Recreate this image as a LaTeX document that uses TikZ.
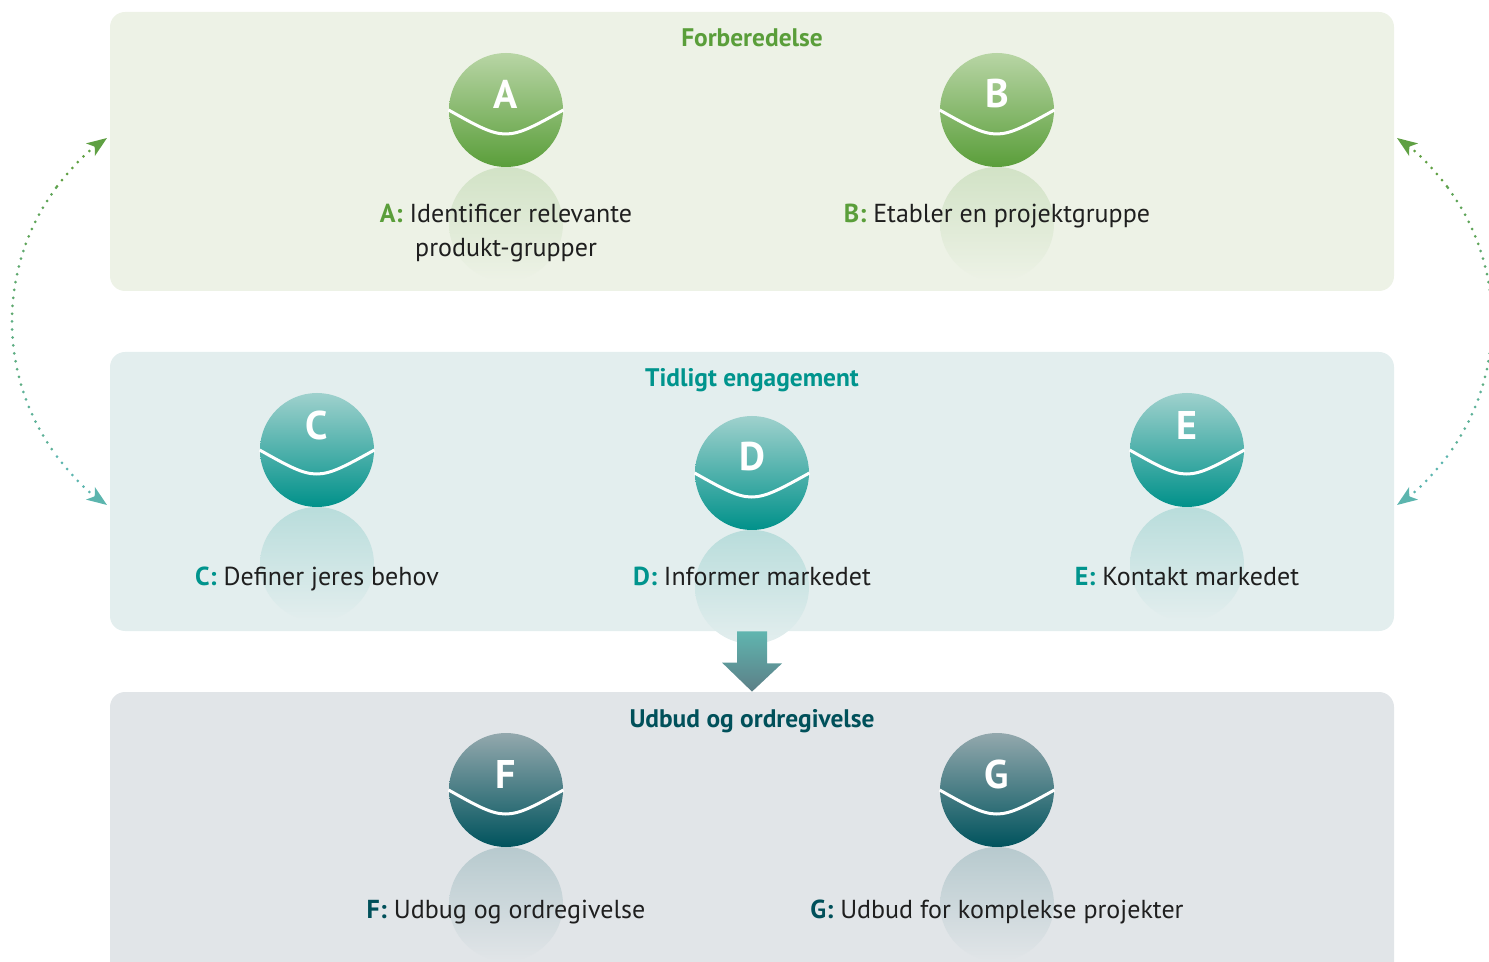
\documentclass[tikz,border=0pt]{standalone}
\usepackage{fontspec}
\setmainfont{PT Sans}
\usetikzlibrary{arrows.meta}

\definecolor{grn}{HTML}{5A9E3A}
\definecolor{tea}{HTML}{00948D}
\definecolor{drk}{HTML}{00505A}
\definecolor{prepbg}{HTML}{EDF2E6}
\definecolor{earlybg}{HTML}{E3EEEE}
\definecolor{tenderbg}{HTML}{E1E5E8}
\definecolor{dotgrn}{HTML}{5FA043}
\definecolor{dottea}{HTML}{5CB5AE}
\definecolor{arrtop}{HTML}{60B5AF}
\definecolor{arrbot}{HTML}{5C7F87}

\tikzset{
  panel/.style={rectangle, rounded corners=7.5pt, minimum width=642pt, minimum height=139.5pt, inner sep=0pt},
  ball/.style n args={3}{circle, minimum size=57pt, inner sep=0pt, top color=#1, middle color=#2, bottom color=#3},
  letter/.style={text=white, font=\bfseries\fontsize{20}{20}\selectfont},
  title/.style={anchor=base, font=\bfseries\fontsize{12.7}{15}\selectfont},
  steptext/.style={anchor=base, font=\fontsize{13}{17}\selectfont, align=center, text=black!88},
  dotline/.style={line width=1.5pt, line cap=round, dash pattern=on 0pt off 4pt},
  tip/.style={{Stealth[length=10pt,width=7.5pt,inset=2.5pt]}-},
}

\begin{document}
\begin{tikzpicture}[x=0.5pt,y=-0.5pt]
\useasboundingbox (0,0) rectangle (1489,962);
\clip (0,0) rectangle (1489,962);

% panels
\node[panel, fill=prepbg] (prep) at (752,151.5) {};
\node[panel, fill=earlybg] (early) at (752,491.5) {};
\node[panel, fill=tenderbg, minimum height=150pt] (tender) at (752,842) {};

\node[title, text=grn] (t1) at (752,47) {Forberedelse};
\node[title, text=tea] (t2) at (752,387) {Tidligt engagement};
\node[title, text=drk] (t3) at (752,727) {Udbud og ordregivelse};

% spheres
\foreach \n/\x/\y/\l/\up/\ca/\cb/\cc/\bg in {
    a/506/110/A/8/B8D5A5/80B763/5A9E3A/prepbg,
    b/997/110/B/8/B8D5A5/80B763/5A9E3A/prepbg,
    c/317/450/C/12/9FD1CD/2FA59E/00918A/earlybg,
    d/752/473/D/8/9FD1CD/2FA59E/00918A/earlybg,
    e/1187/450/E/12/9FD1CD/2FA59E/00918A/earlybg,
    f/506/790/F/8/93A8AD/3E737B/00535D/tenderbg,
    g/997/790/G/8/93A8AD/3E737B/00535D/tenderbg} {
  \definecolor{ca}{HTML}{\ca}
  \definecolor{cb}{HTML}{\cb}
  \definecolor{cc}{HTML}{\cc}
  \shade[top color=cc!28!\bg, middle color=cc!5!\bg, bottom color=\bg] (\x,\y) ++(0,114) circle[radius=57];
  \node[ball={ca}{cb}{cc}] (\n) at (\x,\y) {};
  \draw[white, line width=1.5pt] (\n.west) .. controls +(57,32) .. (\n.east);
  \node[letter] (\n l) at ([yshift=\up pt]\n.center) {\l};
}

% labels
\node[steptext] (la) at (506,257) {\textcolor{grn}{\textbf{A:}} Identificer relevante\\produkt-grupper};
\node[steptext] (lb) at (997,223) {\textcolor{grn}{\textbf{B:}} Etabler en projektgruppe};
\node[steptext] (lc) at (317,585) {\textcolor{tea}{\textbf{C:}} Definer jeres behov};
\node[steptext] (ld) at (752,585) {\textcolor{tea}{\textbf{D:}} Informer markedet};
\node[steptext] (le) at (1187,585) {\textcolor{tea}{\textbf{E:}} Kontakt markedet};
\node[steptext] (lf) at (506,918) {\textcolor{drk}{\textbf{F:}} Udbug og ordregivelse};
\node[steptext] (lg) at (997,918) {\textcolor{drk}{\textbf{G:}} Udbud for komplekse projekter};

% down arrow
\shade[top color=arrtop, bottom color=arrbot] (early.south) ++(-15,0) -- ++(30,0) -- ++(0,32) -- ++(15,0)
  -- (tender.north) -- ++(-30,-29) -- ++(15,0) -- cycle;

% dotted loops
\coordinate (lt) at (107,138);
\coordinate (lbot) at (107,505);
\coordinate (lm) at (236.7,321.5);
\coordinate (rt) at (1397,138);
\coordinate (rbot) at (1397,505);
\coordinate (rm) at (1267.3,321.5);

\draw[dotline, dotgrn, tip] (lt) arc[start angle=234.8, end angle=216.53, radius=224.7];
\foreach \s/\e/\p in {216.53/198.27/80, 198.27/180/60, 180/161.73/40, 161.73/143.47/20}
  \draw[dotline, dotgrn!\p!dottea] (lm) ++(\s:224.7) arc[start angle=\s, end angle=\e, radius=224.7];
\draw[dotline, dottea, tip] (lbot) arc[start angle=125.2, end angle=143.47, radius=224.7];

\draw[dotline, dotgrn, tip] (rt) arc[start angle=-54.8, end angle=-36.53, radius=224.7];
\foreach \s/\e/\p in {-36.53/-18.27/80, -18.27/0/60, 0/18.27/40, 18.27/36.53/20}
  \draw[dotline, dotgrn!\p!dottea] (rm) ++(\s:224.7) arc[start angle=\s, end angle=\e, radius=224.7];
\draw[dotline, dottea, tip] (rbot) arc[start angle=54.8, end angle=36.53, radius=224.7];
\end{tikzpicture}
\end{document}
